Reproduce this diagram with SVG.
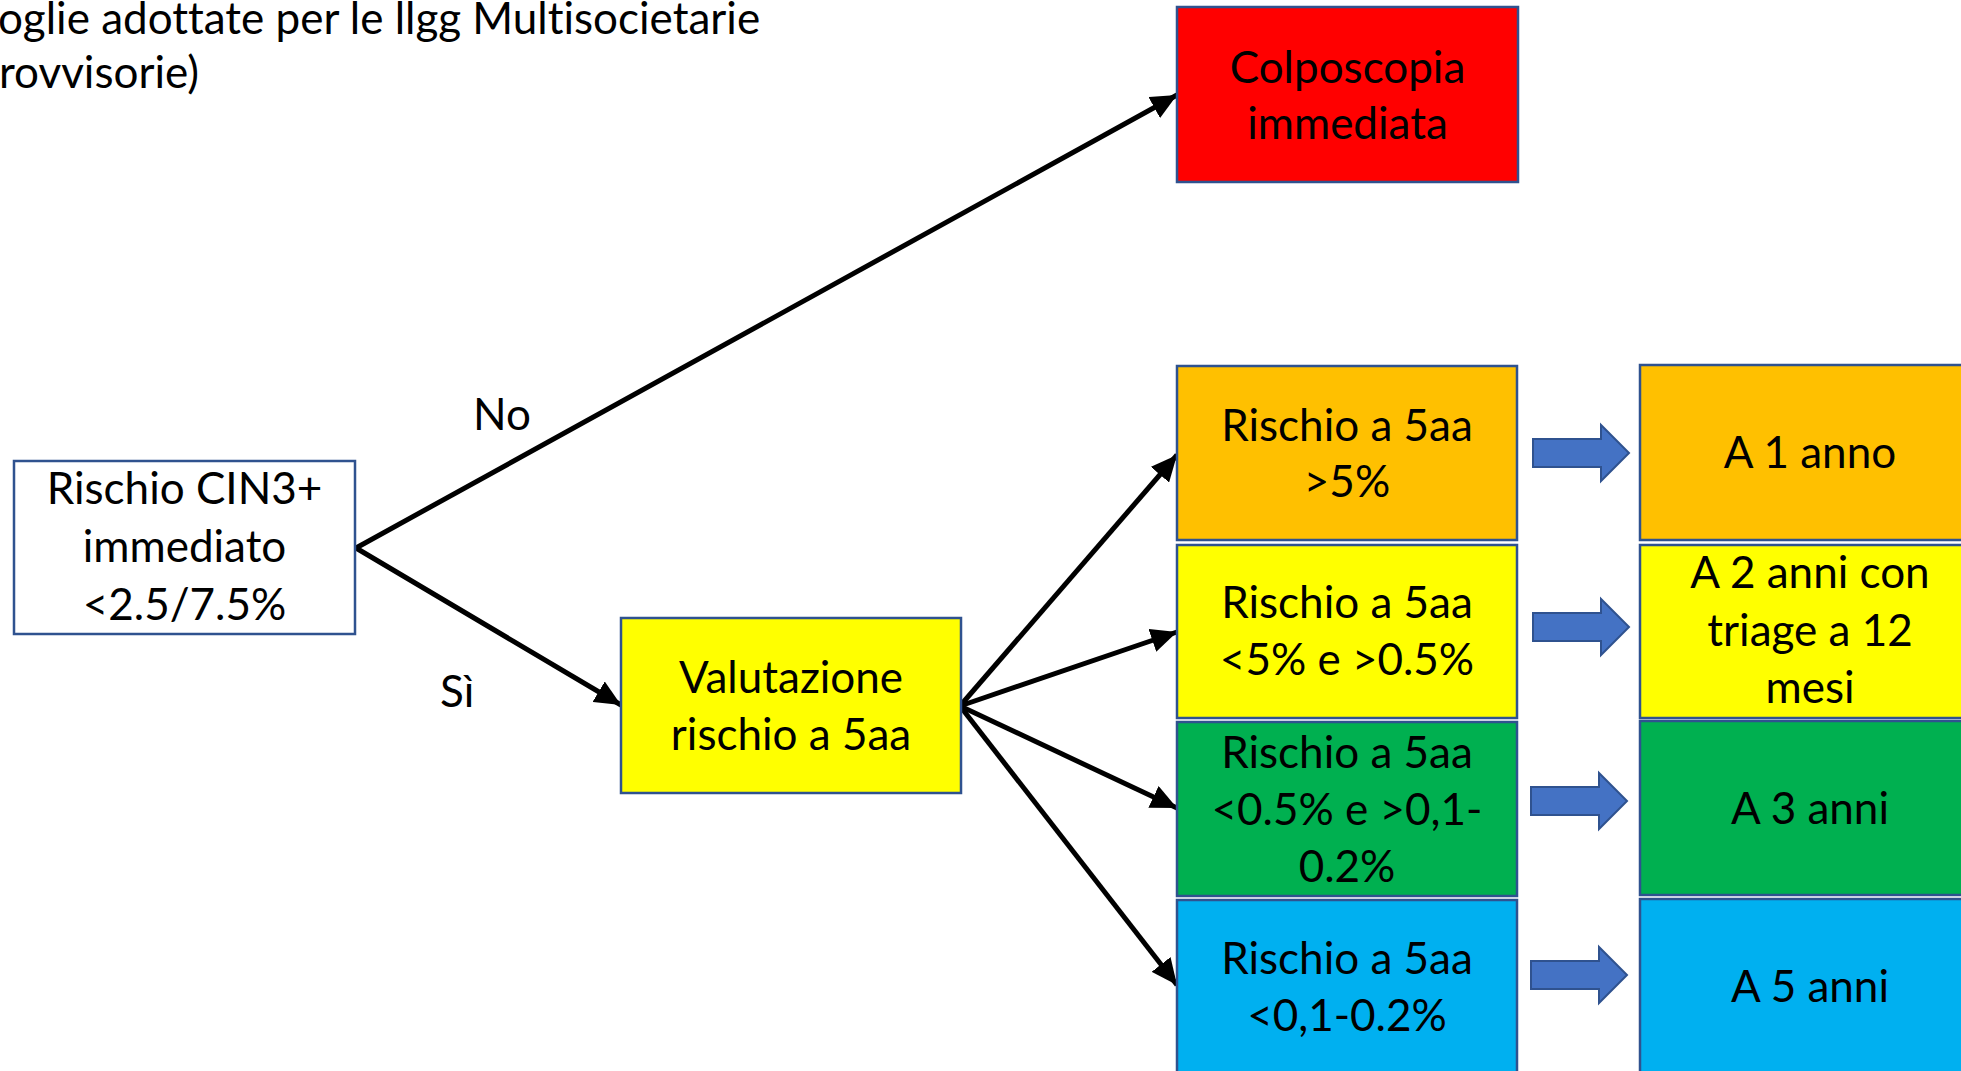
<svg xmlns="http://www.w3.org/2000/svg" xmlns:xlink="http://www.w3.org/1999/xlink" width="1961" height="1071" viewBox="0 0 1961 1071">
<defs>
<style>
text{font-family:Lato,"Liberation Sans",sans-serif;font-size:44px;fill:#000;font-variant-ligatures:none;}
.c{text-anchor:middle;}
.box{stroke:#2F528F;stroke-width:2.5;}
.conn{stroke:#000;stroke-width:5;fill:none;marker-end:url(#ah);}
.blk{fill:#4472C4;stroke:#2F528F;stroke-width:2;}
</style>
<marker id="ah" markerUnits="userSpaceOnUse" markerWidth="28" markerHeight="24" refX="26" refY="12" orient="auto">
<path d="M0,0 L26,12 L0,24 Z" fill="#000"/>
</marker>
<path id="blkarrow" d="M0,-14 L68,-14 L68,-28 L96,0 L68,28 L68,14 L0,14 Z"/>
</defs>
<rect width="1961" height="1071" fill="#fff"/>
<g id="title">
<text x="-2" y="34">oglie adottate per le llgg Multisocietarie</text>
<text x="-1" y="88">rovvisorie)</text>
</g>
<g id="connectors">
<line class="conn" x1="356" y1="548" x2="1177" y2="95"/>
<line class="conn" x1="356" y1="548" x2="621" y2="705"/>
<line class="conn" x1="960" y1="706" x2="1177" y2="455"/>
<line class="conn" x1="960" y1="706" x2="1177" y2="632"/>
<line class="conn" x1="960" y1="706" x2="1177" y2="808"/>
<line class="conn" x1="960" y1="706" x2="1177" y2="985"/>
<text x="473" y="430">No</text>
<text x="440" y="707">Sì</text>
<use class="blk" xlink:href="#blkarrow" x="1533" y="453"/>
<use class="blk" xlink:href="#blkarrow" x="1533" y="627"/>
<use class="blk" xlink:href="#blkarrow" x="1531" y="801"/>
<use class="blk" xlink:href="#blkarrow" x="1531" y="975"/>
</g>
<g id="n-cin3">
<rect class="box" x="14" y="461" width="341" height="173" fill="#fff"/>
<text class="c" x="184.5" y="504">Rischio CIN3+</text>
<text class="c" x="184.5" y="562">immediato</text>
<text class="c" x="184.5" y="620">&lt;2.5/7.5%</text>
</g>
<g id="n-colpo">
<rect class="box" x="1177" y="7" width="341" height="175" fill="#FF0000"/>
<text class="c" x="1347.5" y="83">Colposcopia</text>
<text class="c" x="1347.5" y="139">immediata</text>
</g>
<g id="n-valut">
<rect class="box" x="621" y="618" width="340" height="175" fill="#FFFF00"/>
<text class="c" x="791" y="693">Valutazione</text>
<text class="c" x="791" y="750">rischio a 5aa</text>
</g>
<g id="n-r1">
<rect class="box" x="1177" y="366" width="340" height="174" fill="#FFC000"/>
<text class="c" x="1347" y="441">Rischio a 5aa</text>
<text class="c" x="1347" y="497">&gt;5%</text>
</g>
<g id="n-r2">
<rect class="box" x="1177" y="545" width="340" height="173" fill="#FFFF00"/>
<text class="c" x="1347" y="618">Rischio a 5aa</text>
<text class="c" x="1347" y="675">&lt;5% e &gt;0.5%</text>
</g>
<g id="n-r3">
<rect class="box" x="1177" y="722" width="340" height="174" fill="#00B050"/>
<text class="c" x="1347" y="768">Rischio a 5aa</text>
<text class="c" x="1347" y="825">&lt;0.5% e &gt;0,1-</text>
<text class="c" x="1347" y="882">0.2%</text>
</g>
<g id="n-r4">
<rect class="box" x="1177" y="900" width="340" height="180" fill="#00B0F0"/>
<text class="c" x="1347" y="974">Rischio a 5aa</text>
<text class="c" x="1347" y="1031">&lt;0,1-0.2%</text>
</g>
<g id="n-a1">
<rect class="box" x="1640" y="365" width="345" height="175" fill="#FFC000"/>
<text class="c" x="1810" y="468">A 1 anno</text>
</g>
<g id="n-a2">
<rect class="box" x="1640" y="545" width="345" height="173" fill="#FFFF00"/>
<text class="c" x="1810" y="588">A 2 anni con</text>
<text class="c" x="1810" y="646">triage a 12</text>
<text class="c" x="1810" y="703">mesi</text>
</g>
<g id="n-a3">
<rect class="box" x="1640" y="721" width="345" height="174" fill="#00B050"/>
<text class="c" x="1810" y="824">A 3 anni</text>
</g>
<g id="n-a4">
<rect class="box" x="1640" y="899" width="345" height="180" fill="#00B0F0"/>
<text class="c" x="1810" y="1002">A 5 anni</text>
</g>
</svg>
